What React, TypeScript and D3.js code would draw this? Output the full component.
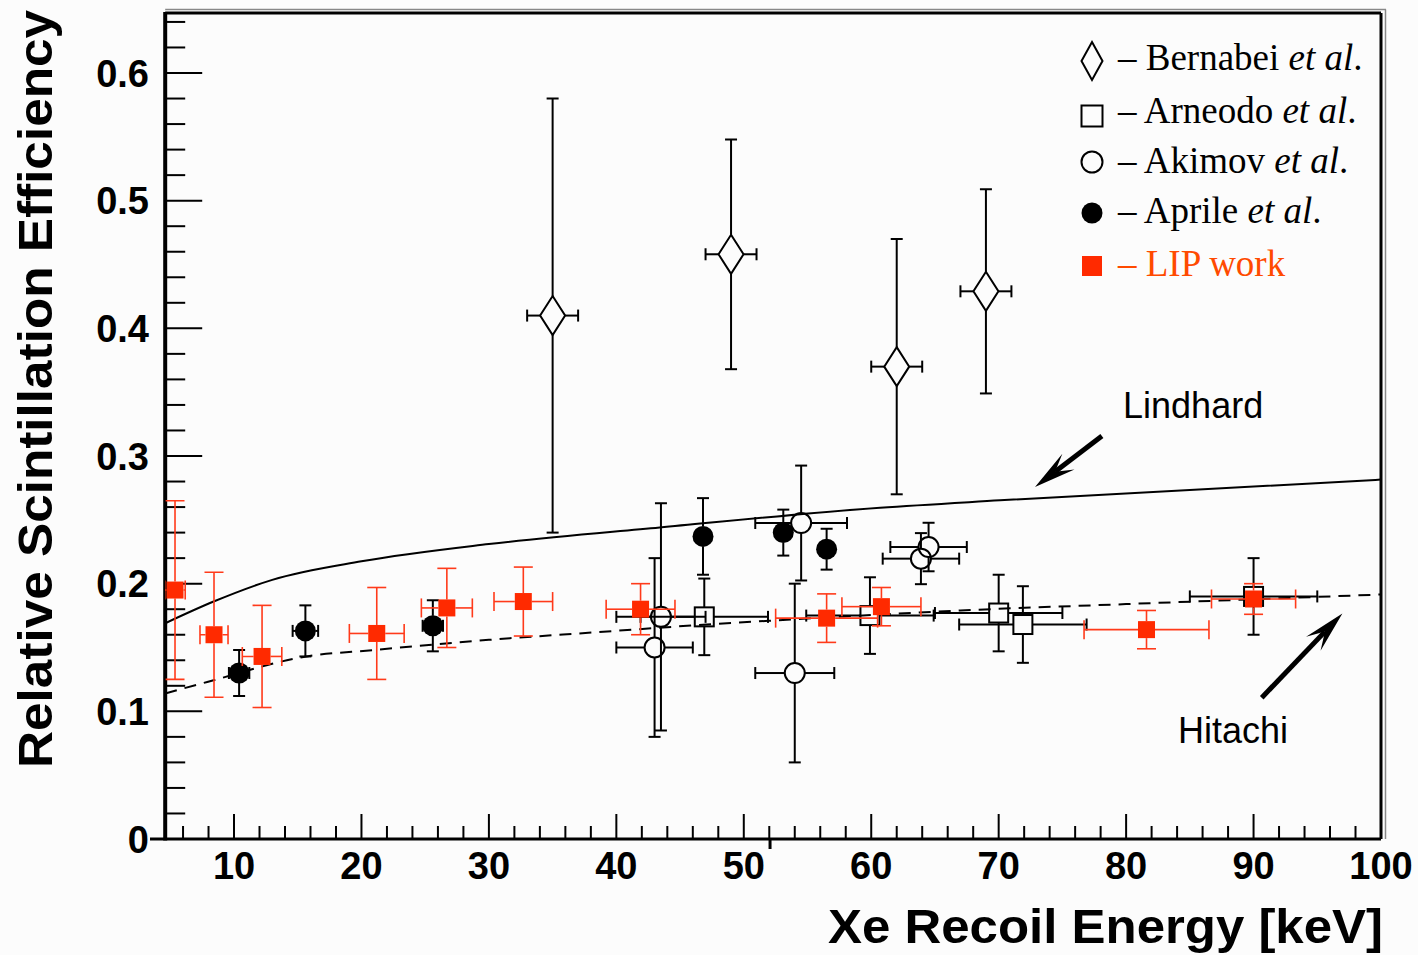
import React from "react";
import * as d3 from "d3";

// ---------------- data ----------------
const bernabeiX = [35.0, 49.0, 62.0, 69.0];
const bernabeiY = [0.41, 0.458, 0.37, 0.429];
const bernabeiEX = [2.0, 2.0, 2.0, 2.0];
const bernabeiEY = [0.17, 0.09, 0.1, 0.08];

const arneodoX = [46.9, 59.9, 70.0, 71.9, 90.0];
const arneodoY = [0.174, 0.175, 0.177, 0.168, 0.19];
const arneodoEX = [5.0, 5.0, 5.0, 5.0, 5.0];
const arneodoEY = [0.03, 0.03, 0.03, 0.03, 0.03];

const akimovX = [43.0, 43.5, 54.0, 54.5, 63.9, 64.5];
const akimovY = [0.15, 0.174, 0.13, 0.2475, 0.2196, 0.2287];
const akimovEX = [3.0, 3.5, 3.1, 3.6, 3.0, 3.0];
const akimovEY = [0.07, 0.089, 0.07, 0.045, 0.02, 0.019];

const aprileX = [10.4, 15.6, 25.6, 46.8, 53.1, 56.5];
const aprileY = [0.13, 0.163, 0.167, 0.237, 0.24, 0.227];
const aprileEX = [0.8, 1.0, 0.8, 0.7, 0.7, 0.7];
const aprileEY = [0.018, 0.02, 0.02, 0.03, 0.018, 0.016];

const lipX = [5.37, 8.43, 12.2, 21.2, 26.7, 32.7, 41.9, 56.5, 60.8, 81.6, 90.0];
const lipY = [0.195, 0.16, 0.143, 0.161, 0.181, 0.186, 0.18, 0.173, 0.182, 0.164, 0.188];
const lipEX = [0.8, 1.1, 1.55, 2.15, 2.0, 2.3, 2.7, 4.0, 3.1, 4.9, 3.3];
const lipEY = [0.07, 0.049, 0.04, 0.036, 0.031, 0.027, 0.02, 0.019, 0.015, 0.015, 0.012];

const lindhardX = [4.6, 8.4, 13.0, 20.0, 30.0, 43.4, 60.7, 70.1, 100];
const lindhardY = [0.169, 0.186, 0.203, 0.2175, 0.231, 0.244, 0.2595, 0.2653, 0.2815];

const hitachiX = [4.6, 7.9, 15.7, 20.9, 30.0, 38.5, 47.1, 52.1, 67.0, 80.0, 100];
const hitachiY = [0.114, 0.123, 0.143, 0.148, 0.156, 0.162, 0.168, 0.171, 0.179, 0.184, 0.1915];

const xMajorTicks = [10, 20, 30, 40, 50, 60, 70, 80, 90, 100];
const yMajorTicks = [0, 0.1, 0.2, 0.3, 0.4, 0.5, 0.6];
const yTickLabels = ["0", "0.1", "0.2", "0.3", "0.4", "0.5", "0.6"];

const legendNames = ["Bernabei", "Arneodo", "Akimov", "Aprile", "LIP work"];

// ---------------- layout ----------------
const W = 1418;
const H = 955;
const L = 165.2;
const R = 1381;
const T = 13;
const B = 839;

const x = d3.scaleLinear().domain([4.6, 100]).range([L, R]);
const y = d3.scaleLinear().domain([0, 0.647]).range([B, T]);

const RED = "#ff2a00";
const RED_BAR = "#ff3a1a";
const RED_TEXT = "#ff4a00";
const SANS = "'Liberation Sans', Arial, Helvetica, sans-serif";
const SERIF = "'Liberation Serif', 'Times New Roman', serif";

type MK = "diamond" | "square" | "circle" | "dot" | "red";

function Marker({ kind, cx, cy, legend = false }: { kind: MK; cx: number; cy: number; legend?: boolean }) {
  if (kind === "diamond") {
    const hw = legend ? 10.5 : 12.5;
    const hh = legend ? 19 : 19.5;
    return (
      <path
        d={`M${cx},${cy - hh}L${cx + hw},${cy}L${cx},${cy + hh}L${cx - hw},${cy}Z`}
        fill="none"
        stroke="#000"
        strokeWidth={2}
      />
    );
  }
  if (kind === "square") {
    const h = legend ? 10.5 : 9.5;
    return <rect x={cx - h} y={cy - h} width={2 * h} height={2 * h} fill="none" stroke="#000" strokeWidth={2} />;
  }
  if (kind === "circle") {
    return <circle cx={cx} cy={cy} r={legend ? 10.5 : 10} fill="none" stroke="#000" strokeWidth={2} />;
  }
  if (kind === "dot") {
    return <circle cx={cx} cy={cy} r={10.5} fill="#000" />;
  }
  const h = legend ? 10 : 8.5;
  return <rect x={cx - h} y={cy - h} width={2 * h} height={2 * h} fill={RED} />;
}

function Series({
  xs, ys, exs, eys, kind, hw, hh, color, sw, cap,
}: {
  xs: number[]; ys: number[]; exs: number[]; eys: number[]; kind: MK;
  hw: number; hh: number; color: string; sw: number; cap: number;
}) {
  return (
    <g>
      {xs.map((xv, i) => {
        const cx = x(xv);
        const cy = y(ys[i]);
        const x0 = x(xv - exs[i]);
        const x1 = x(xv + exs[i]);
        const y0 = y(ys[i] - eys[i]);
        const y1 = y(ys[i] + eys[i]);
        const segs: any[] = [];
        if (cx - x0 > hw) {
          segs.push(<line key="l" x1={x0} x2={cx - hw} y1={cy} y2={cy} />);
          segs.push(<line key="r" x1={cx + hw} x2={x1} y1={cy} y2={cy} />);
          segs.push(<line key="lc" x1={x0} x2={x0} y1={cy - cap} y2={cy + cap} />);
          segs.push(<line key="rc" x1={x1} x2={x1} y1={cy - cap} y2={cy + cap} />);
        }
        if (y0 - cy > hh) {
          segs.push(<line key="t" x1={cx} x2={cx} y1={y1} y2={cy - hh} />);
          segs.push(<line key="b" x1={cx} x2={cx} y1={cy + hh} y2={y0} />);
          segs.push(<line key="tc" x1={cx - cap} x2={cx + cap} y1={y1} y2={y1} />);
          segs.push(<line key="bc" x1={cx - cap} x2={cx + cap} y1={y0} y2={y0} />);
        }
        return (
          <g key={i}>
            <g stroke={color} strokeWidth={sw}>{segs}</g>
            <Marker kind={kind} cx={cx} cy={cy} />
          </g>
        );
      })}
    </g>
  );
}

function Arrow({ from, to }: { from: [number, number]; to: [number, number] }) {
  const x0 = x(from[0]);
  const y0 = y(from[1]);
  const x1 = x(to[0]);
  const y1 = y(to[1]);
  const dx = x1 - x0;
  const dy = y1 - y0;
  const len = Math.hypot(dx, dy);
  const ux = dx / len;
  const uy = dy / len;
  const nx = -uy;
  const ny = ux;
  const HL = 42;
  const HW = 10;
  const bx = x1 - ux * HL;
  const by = y1 - uy * HL;
  const kx = x1 - ux * HL * 0.6;
  const ky = y1 - uy * HL * 0.6;
  return (
    <g>
      <line x1={x0} y1={y0} x2={kx} y2={ky} stroke="#000" strokeWidth={5} />
      <path
        d={`M${x1},${y1}L${bx + nx * HW},${by + ny * HW}L${kx},${ky}L${bx - nx * HW},${by - ny * HW}Z`}
        fill="#000"
      />
    </g>
  );
}

export default function App() {
  const curve = d3
    .line<[number, number]>()
    .x((d) => x(d[0]))
    .y((d) => y(d[1]))
    .curve(d3.curveMonotoneX);
  const lindhardPath = curve(lindhardX.map((v, i) => [v, lindhardY[i]] as [number, number]));
  const hitachiPath = curve(hitachiX.map((v, i) => [v, hitachiY[i]] as [number, number]));

  const xMinor: number[] = [];
  for (let v = 6; v < 100; v += 2) if (v % 10 !== 0) xMinor.push(v);
  const yMinor: number[] = [];
  for (let k = 1; k <= 32; k++) if (k % 5 !== 0) yMinor.push(k * 0.02);

  const legendKinds: MK[] = ["diamond", "square", "circle", "dot", "red"];
  const legendY = [61, 116, 162, 213, 266];
  const legendBase = [70, 123, 173, 223, 276];

  return (
    <svg
      width={W}
      height={H}
      viewBox={`0 0 ${W} ${H}`}
      style={{ position: "absolute", left: 0, top: 0, display: "block" }}
    >
      <rect x={0} y={0} width={W} height={H} fill="#fcfcfc" />
      <defs>
        <clipPath id="plotclip">
          <rect x={L} y={T} width={R - L} height={B - T} />
        </clipPath>
      </defs>

      {/* frame shadow lines */}
      <line x1={L} x2={R + 5} y1={9.5} y2={9.5} stroke="#888" strokeWidth={1.5} />
      <line x1={R + 4.5} x2={R + 4.5} y1={9.5} y2={B} stroke="#888" strokeWidth={1.5} />
      {/* frame */}
      <line x1={L} x2={R} y1={T} y2={T} stroke="#000" strokeWidth={3} />
      <line x1={R} x2={R} y1={T} y2={B} stroke="#000" strokeWidth={3} />
      <line x1={150} x2={R} y1={B} y2={B} stroke="#000" strokeWidth={3} />
      <line x1={L} x2={L} y1={T - 1} y2={B + 1.5} stroke="#000" strokeWidth={4} />
      <line x1={x(52.06)} x2={x(52.06)} y1={B} y2={B + 10} stroke="#000" strokeWidth={3} />

      {/* ticks */}
      <g stroke="#000" strokeWidth={2}>
        {xMajorTicks.map((v) => (
          <line key={v} x1={x(v)} x2={x(v)} y1={B} y2={B - 25} />
        ))}
        {xMinor.map((v) => (
          <line key={v} x1={x(v)} x2={x(v)} y1={B} y2={B - 13} />
        ))}
        {yMajorTicks.map((v) => (
          <line key={v} x1={L} x2={L + 37} y1={y(v)} y2={y(v)} />
        ))}
        {yMinor.map((v) => (
          <line key={v} x1={L} x2={L + 20} y1={y(v)} y2={y(v)} />
        ))}
      </g>

      {/* tick labels */}
      <g fontFamily={SANS} fontWeight="bold" fontSize={38} fill="#000">
        {xMajorTicks.map((v) => (
          <text key={v} x={x(v)} y={879} textAnchor="middle">
            {v}
          </text>
        ))}
        {yMajorTicks.map((v, i) => (
          <text key={v} x={149} y={y(v)} dy="0.36em" textAnchor="end">
            {yTickLabels[i]}
          </text>
        ))}
      </g>

      {/* axis titles */}
      <text
        x={1383}
        y={943}
        textAnchor="end"
        fontFamily={SANS}
        fontWeight="bold"
        fontSize={48}
        textLength={555}
        lengthAdjust="spacingAndGlyphs"
      >
        Xe Recoil Energy [keV]
      </text>
      <text
        transform="translate(52,389) rotate(-90)"
        textAnchor="middle"
        fontFamily={SANS}
        fontWeight="bold"
        fontSize={48}
        textLength={758}
        lengthAdjust="spacingAndGlyphs"
      >
        Relative Scintillation Efficiency
      </text>

      <g clipPath="url(#plotclip)">
        <path d={lindhardPath || ""} fill="none" stroke="#000" strokeWidth={2} />
        <path d={hitachiPath || ""} fill="none" stroke="#000" strokeWidth={2} strokeDasharray="12 8" />

        <Series xs={bernabeiX} ys={bernabeiY} exs={bernabeiEX} eys={bernabeiEY} kind="diamond" hw={12.5} hh={19.5} color="#000" sw={2} cap={6} />
        <Series xs={arneodoX} ys={arneodoY} exs={arneodoEX} eys={arneodoEY} kind="square" hw={9.5} hh={9.5} color="#000" sw={2} cap={6} />
        <Series xs={akimovX} ys={akimovY} exs={akimovEX} eys={akimovEY} kind="circle" hw={10} hh={10} color="#000" sw={2} cap={6} />
        <Series xs={aprileX} ys={aprileY} exs={aprileEX} eys={aprileEY} kind="dot" hw={10} hh={10} color="#000" sw={2} cap={6} />
        <Series xs={lipX} ys={lipY} exs={lipEX} eys={lipEY} kind="red" hw={8.5} hh={8.5} color={RED_BAR} sw={1.6} cap={9.5} />
      </g>

      {/* annotations */}
      <Arrow from={[78.1, 0.3156]} to={[72.85, 0.2757]} />
      <Arrow from={[90.64, 0.1107]} to={[96.97, 0.1767]} />
      <text x={x(79.76)} y={y(0.3297)} fontFamily={SANS} fontSize={36} fill="#000">
        Lindhard
      </text>
      <text x={x(84.07)} y={y(0.0752)} fontFamily={SANS} fontSize={36} fill="#000">
        Hitachi
      </text>

      {/* legend */}
      <g fontFamily={SERIF} fontSize={37}>
        {legendKinds.map((k, i) => (
          <g key={k}>
            <Marker kind={k} cx={1092} cy={legendY[i]} legend />
            {k === "red" ? (
              <text x={1118} y={legendBase[i]} fill={RED_TEXT}>
                {"\u2013 " + legendNames[i]}
              </text>
            ) : (
              <text x={1118} y={legendBase[i]} fill="#000">
                {"\u2013 " + legendNames[i] + " "}
                <tspan fontStyle="italic">et al</tspan>.
              </text>
            )}
          </g>
        ))}
      </g>
    </svg>
  );
}
